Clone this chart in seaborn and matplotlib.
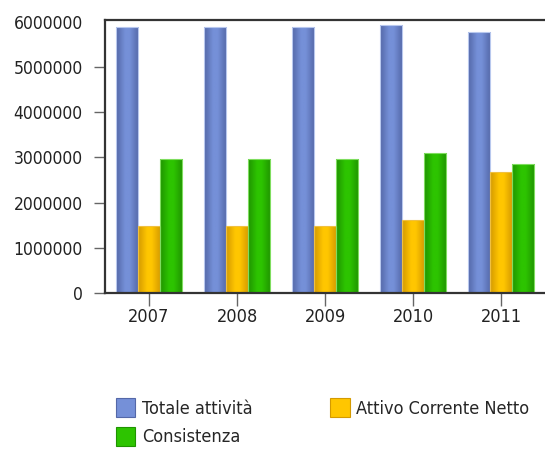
import numpy as np
import pandas as pd
import matplotlib
matplotlib.use("Agg")
import matplotlib.pyplot as plt
import seaborn as sns
from matplotlib.colors import LinearSegmentedColormap
from matplotlib.patches import Patch

years = ["2007", "2008", "2009", "2010", "2011"]
series_names = ["Totale attività", "Attivo Corrente Netto", "Consistenza"]
totale = [5900000, 5900000, 5900000, 5950000, 5780000]
attivo = [1490000, 1490000, 1490000, 1620000, 2680000]
consistenza = [2970000, 2970000, 2970000, 3100000, 2855000]
yticks = [0, 1000000, 2000000, 3000000, 4000000, 5000000, 6000000]

base_colors = ["#7590D8", "#FFC600", "#2DC400"]
edge_dark = ["#5468A8", "#D49A00", "#1F9400"]
outline = ["#B8C8EE", "#F0C040", "#7FDD5F"]

df = pd.DataFrame({
    "year": years * 3,
    "serie": [series_names[0]] * 5 + [series_names[1]] * 5 + [series_names[2]] * 5,
    "value": totale + attivo + consistenza,
})

sns.set_style("white")
plt.rcParams["font.family"] = ["DejaVu Sans"]
plt.rcParams["font.stretch"] = "condensed"

W, H = 545, 449
fig = plt.figure(figsize=(W / 100, H / 100), dpi=100)
ax = fig.add_axes([105 / W, 1 - 292.7 / H, 442 / W, (292.7 - 20) / H])

sns.barplot(data=df, x="year", y="value", hue="serie", order=years,
            hue_order=series_names, palette=base_colors, width=0.75,
            saturation=1, legend=False, ax=ax, edgecolor="none")

ax.set_yticks(yticks)
ax.set_yticklabels([str(v) for v in yticks])
ax.set_xlabel("")
ax.set_ylabel("")

# gradient shading on bars
n = len(years)
for i, patch in enumerate(list(ax.patches)):
    s = i // n
    if s >= 3:
        continue
    x0, y0 = patch.get_x(), patch.get_y()
    w, h = patch.get_width(), patch.get_height()
    cmap = LinearSegmentedColormap.from_list(
        "g", [(0.0, edge_dark[s]), (0.4, base_colors[s]),
              (0.6, base_colors[s]), (1.0, edge_dark[s])])
    grad = np.linspace(0, 1, 64)[None, :]
    im = ax.imshow(grad, extent=[x0, x0 + w, y0, y0 + h], aspect="auto",
                   cmap=cmap, zorder=patch.get_zorder() + 0.1,
                   interpolation="bilinear")
    im.set_clip_path(patch)
    patch.set_edgecolor(outline[s])
    patch.set_linewidth(0.8)
    patch.set_zorder(patch.get_zorder() + 0.2)
    patch.set_facecolor("none")

ax.set_xlim(-0.5, 4.52)
ax.set_ylim(0, 6050000)

for side in ["top", "left", "bottom"]:
    ax.spines[side].set_visible(True)
    ax.spines[side].set_color("#333333")
    ax.spines[side].set_linewidth(1.6)
ax.spines["right"].set_visible(False)

ax.tick_params(axis="y", direction="out", length=8, width=1, color="#666666",
               labelsize=12.5, pad=8, labelcolor="#222222", left=True)
ax.tick_params(axis="x", direction="out", length=9, width=1, color="#666666",
               labelsize=13, pad=2, labelcolor="#222222", bottom=True)
ax.yaxis.get_major_ticks()[-1].tick1line.set_visible(False)

handles = [Patch(facecolor=base_colors[i], edgecolor=edge_dark[i], linewidth=0.8)
           for i in range(3)]
order = [0, 2, 1]
fig.legend([handles[i] for i in order], [series_names[i] for i in order],
           loc="upper left", bbox_to_anchor=(112 / W, 1 - 394 / H), ncol=2,
           frameon=False, fontsize=13, handlelength=1.1, handleheight=1.3,
           handletextpad=0.35, columnspacing=4.3, labelspacing=0.5,
           borderaxespad=0, borderpad=0.2)

fig.savefig("out.png", dpi=100)
